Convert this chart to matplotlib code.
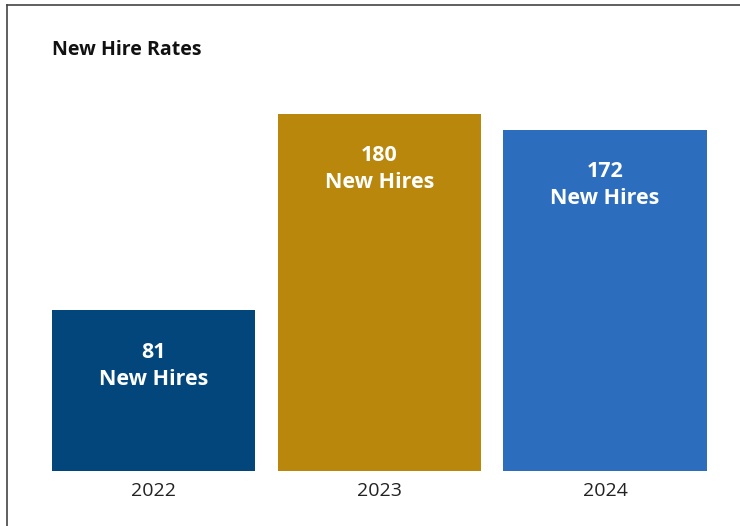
import matplotlib.pyplot as plt
from matplotlib.lines import Line2D

plt.rcParams['font.family'] = ['Open Sans', 'DejaVu Sans']

years = ["2022", "2023", "2024"]
new_hires = [81, 180, 172]
colors = ["#02467c", "#b8870b", "#2c6dbd"]

fig = plt.figure(figsize=(7.4, 5.26), dpi=100)
ax = fig.add_axes([0.0551, 0.1046, 0.9149, 0.7243])

x = range(len(years))
bars = ax.bar(x, new_hires, width=0.9, color=colors)

for bar, val in zip(bars, new_hires):
    cx = bar.get_x() + bar.get_width() / 2
    ax.annotate(str(val), (cx, val), xytext=(0, -42), textcoords='offset pixels',
                ha='center', va='center', color='white', fontsize=15.5, fontweight='bold')
    ax.annotate("New Hires", (cx, val), xytext=(0, -69), textcoords='offset pixels',
                ha='center', va='center', color='white', fontsize=15.5, fontweight='bold')

ax.set_xlim(-0.5, 2.5)
ax.set_ylim(0, 192)
ax.set_xticks(list(x))
ax.set_xticklabels(years, fontsize=14, color='#222222')
ax.tick_params(axis='x', length=0, pad=8)
ax.set_yticks([])
for s in ax.spines.values():
    s.set_visible(False)

fig.text(52 / 740, 1 - 50 / 526, "New Hire Rates", ha='left', va='center',
         fontsize=14, fontweight='bold', color='#111111')

# thin frame along the top and left edges
fig.add_artist(Line2D([7 / 740, 1], [1 - 5 / 526, 1 - 5 / 526], color='#444444', lw=1.2))
fig.add_artist(Line2D([7 / 740, 7 / 740], [0, 1 - 5 / 526], color='#444444', lw=1.2))

fig.savefig("out.png", dpi=100)
